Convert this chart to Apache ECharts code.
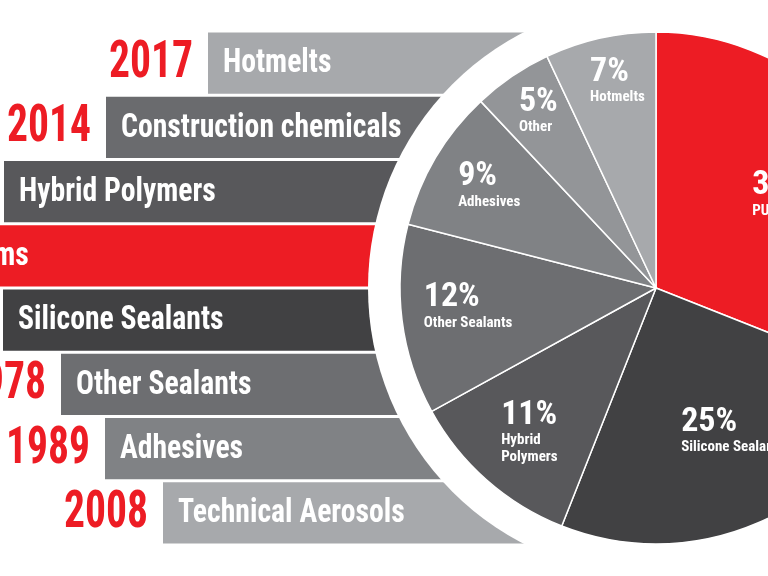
<!DOCTYPE html>
<html>
<head>
<meta charset="utf-8" />
<title>Product portfolio</title>
<script src="https://cdn.jsdelivr.net/npm/echarts@6/dist/echarts.min.js"></script>
<style>
  html, body { margin: 0; padding: 0; background: #ffffff; }
  #main { width: 768px; height: 576px; }
</style>
</head>
<body>
<div id="main"></div>
<script>
// bars on the left: product line, year it was added, where the bar starts
var barNames = ['Hotmelts', 'Construction chemicals', 'Hybrid Polymers', 'PU Foams',
                'Silicone Sealants', 'Other Sealants', 'Adhesives', 'Technical Aerosols'];
var barYears = ['2017', '2014', '', '', '', '1978', '1989', '2008'];
var barStart = [208, 106, 4, -105, 3, 61, 105, 163];
var barEnd = 700;
var barColors = ['#a7a9ac', '#6a6b6e', '#58585b', '#ed1c24', '#414143', '#6d6e71', '#808285', '#a7a9ac'];

// pie: share of sales, clockwise from 12 o'clock
var pieNames = ['PU Foams', 'Silicone Sealants', 'Hybrid\nPolymers', 'Other Sealants', 'Adhesives', 'Other', 'Hotmelts'];
var pieValues = [31, 25, 11, 12, 9, 5, 7];
var pieColors = ['#ed1c24', '#414143', '#58585b', '#6d6e71', '#808285', '#939598', '#a7a9ac'];
// label nudges from the default inside position
var pieLabelOffset = [[18, -20], [25, 23], [-40, 46], [-58, 2], [-54, -36], [-44, -69], [-10, -79]];

var font = '"Roboto Condensed", "Open Sans Condensed", sans-serif';

var chart = echarts.init(document.getElementById('main'));

var barData = barNames.map(function (n, i) { return [i, barStart[i], barEnd]; });

var pieData = pieNames.map(function (n, i) {
  return {
    name: n,
    value: pieValues[i],
    itemStyle: { color: pieColors[i] },
    label: { offset: pieLabelOffset[i] }
  };
});

var option = {
  animation: false,
  grid: { left: 0, right: 0, top: 31, bottom: 31 },
  xAxis: { type: 'value', min: 0, max: 768, show: false },
  yAxis: { type: 'category', data: barNames, inverse: true, show: false },
  series: [
    {
      type: 'custom',
      z: 1,
      data: barData,
      encode: { x: [1, 2], y: 0 },
      renderItem: function (params, api) {
        var idx = api.value(0);
        var p0 = api.coord([api.value(1), idx]);
        var p1 = api.coord([api.value(2), idx]);
        var h = api.size([0, 1])[1] - 3;
        return {
          type: 'group',
          children: [
            {
              type: 'rect',
              shape: { x: p0[0], y: p0[1] - h / 2, width: p1[0] - p0[0], height: h },
              style: { fill: barColors[idx] }
            },
            {
              type: 'text',
              x: p0[0] + 15, y: p0[1] + 1,
              scaleX: 0.9,
              style: {
                text: barNames[idx], fill: '#ffffff', font: 'bold 33px ' + font,
                align: 'left', verticalAlign: 'middle'
              }
            },
            {
              type: 'text',
              x: p0[0] - 15, y: p0[1] + 1,
              scaleX: 0.8,
              style: {
                text: barYears[idx], fill: '#ed1c24', font: 'bold 52px ' + font,
                align: 'right', verticalAlign: 'middle'
              }
            }
          ]
        };
      }
    },
    {
      // white ring that cuts the bars around the pie
      type: 'pie',
      z: 2,
      silent: true,
      center: [656, 288],
      radius: [0, 288],
      label: { show: false },
      labelLine: { show: false },
      itemStyle: { color: '#ffffff' },
      data: [{ value: 1, name: '' }]
    },
    {
      type: 'pie',
      z: 3,
      silent: true,
      center: [656, 288],
      radius: [0, 256],
      startAngle: 90,
      clockwise: true,
      itemStyle: { borderColor: '#ffffff', borderWidth: 1.5 },
      label: {
        show: true,
        position: 'inside',
        formatter: function (p) {
          var lines = p.name.split('\n').map(function (s) { return '{n|' + s + '}'; });
          return '{p|' + p.value + '%}\n' + lines.join('\n');
        },
        rich: {
          p: { fontFamily: font, fontWeight: 'bold', fontSize: 34, color: '#ffffff', align: 'left', lineHeight: 33 },
          n: { fontFamily: font, fontWeight: 'bold', fontSize: 15, color: '#ffffff', align: 'left', lineHeight: 17 }
        }
      },
      labelLine: { show: false },
      data: pieData
    }
  ]
};

chart.setOption(option);
</script>
</body>
</html>
